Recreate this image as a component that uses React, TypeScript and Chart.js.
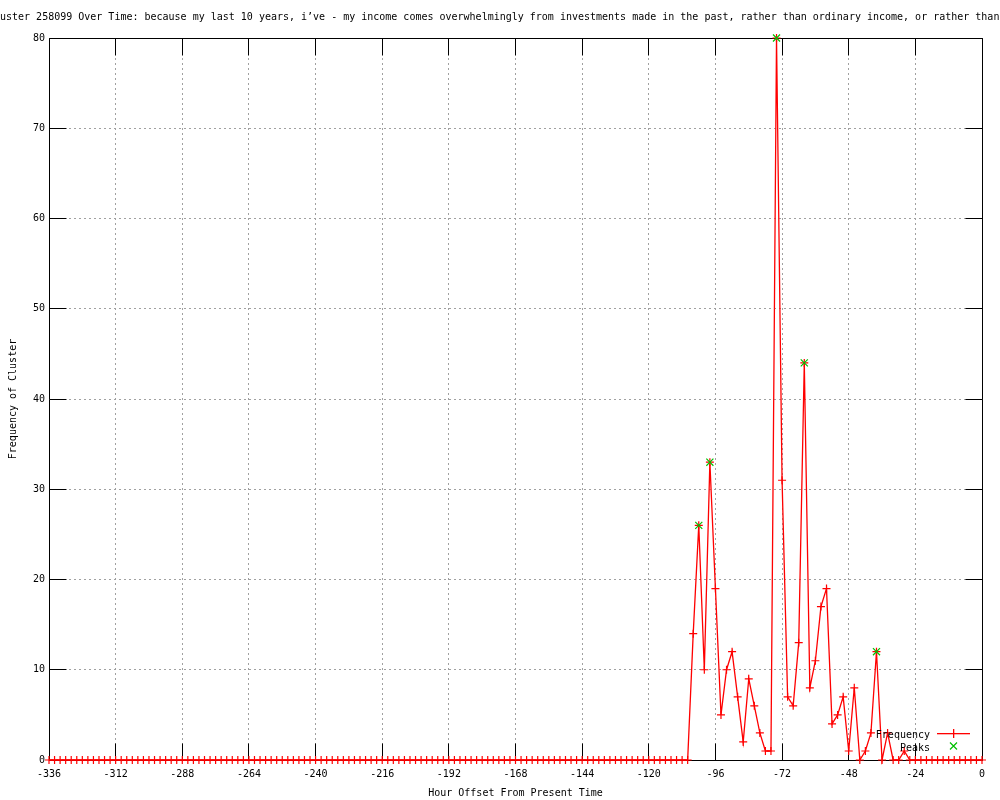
import React, { useEffect, useRef } from 'react';
import { Chart, registerables } from 'chart.js';

Chart.register(...registerables);

const titleText =
  'uster 258099 Over Time: because my last 10 years, i\u2019ve - my income comes overwhelmingly from investments made in the past, rather than ordinary income, or rather than';
const xAxisTitle = 'Hour Offset From Present Time';
const yAxisTitle = 'Frequency of Cluster';
const seriesLabels = ['Frequency', 'Peaks'];

// hour offsets (every 2 hours)
const hours = [
  -336, -334, -332, -330, -328, -326, -324, -322, -320, -318,
  -316, -314, -312, -310, -308, -306, -304, -302, -300, -298,
  -296, -294, -292, -290, -288, -286, -284, -282, -280, -278,
  -276, -274, -272, -270, -268, -266, -264, -262, -260, -258,
  -256, -254, -252, -250, -248, -246, -244, -242, -240, -238,
  -236, -234, -232, -230, -228, -226, -224, -222, -220, -218,
  -216, -214, -212, -210, -208, -206, -204, -202, -200, -198,
  -196, -194, -192, -190, -188, -186, -184, -182, -180, -178,
  -176, -174, -172, -170, -168, -166, -164, -162, -160, -158,
  -156, -154, -152, -150, -148, -146, -144, -142, -140, -138,
  -136, -134, -132, -130, -128, -126, -124, -122, -120, -118,
  -116, -114, -112, -110, -108, -106, -104, -102, -100, -98,
  -96, -94, -92, -90, -88, -86, -84, -82, -80, -78,
  -76, -74, -72, -70, -68, -66, -64, -62, -60, -58,
  -56, -54, -52, -50, -48, -46, -44, -42, -40, -38,
  -36, -34, -32, -30, -28, -26, -24, -22, -20, -18,
  -16, -14, -12, -10, -8, -6, -4, -2, 0,
];

const frequency = [
  0, 0, 0, 0, 0, 0, 0, 0, 0, 0,
  0, 0, 0, 0, 0, 0, 0, 0, 0, 0,
  0, 0, 0, 0, 0, 0, 0, 0, 0, 0,
  0, 0, 0, 0, 0, 0, 0, 0, 0, 0,
  0, 0, 0, 0, 0, 0, 0, 0, 0, 0,
  0, 0, 0, 0, 0, 0, 0, 0, 0, 0,
  0, 0, 0, 0, 0, 0, 0, 0, 0, 0,
  0, 0, 0, 0, 0, 0, 0, 0, 0, 0,
  0, 0, 0, 0, 0, 0, 0, 0, 0, 0,
  0, 0, 0, 0, 0, 0, 0, 0, 0, 0,
  0, 0, 0, 0, 0, 0, 0, 0, 0, 0,
  0, 0, 0, 0, 0, 0, 14, 26, 10, 33,
  19, 5, 10, 12, 7, 2, 9, 6, 3, 1,
  1, 80, 31, 7, 6, 13, 44, 8, 11, 17,
  19, 4, 5, 7, 1, 8, 0, 1, 3, 12,
  0, 3, 0, 0, 1, 0, 0, 0, 0, 0,
  0, 0, 0, 0, 0, 0, 0, 0, 0,
];

const peakHours = [-102, -98, -74, -64, -38];
const peakValues = [26, 33, 80, 44, 12];

const xTickValues = [-336, -312, -288, -264, -240, -216, -192, -168, -144, -120, -96, -72, -48, -24, 0];
const yTickValues = [0, 10, 20, 30, 40, 50, 60, 70, 80];

const FONT = '"DejaVu Sans Mono", "Liberation Mono", monospace';
const RED = '#ff0000';
const GREEN = '#00c000';

export default function App() {
  const ref = useRef<HTMLCanvasElement>(null);

  useEffect(() => {
    const canvas = ref.current;
    if (!canvas) return;

    const align = (p: number) => Math.round(p - 0.5) + 0.5;

    const gnuplotPlugin = {
      id: 'gnuplotLook',
      beforeDraw(chart: any) {
        const ctx = chart.ctx;
        ctx.save();
        ctx.fillStyle = '#ffffff';
        ctx.fillRect(0, 0, chart.width, chart.height);
        ctx.fillStyle = '#000000';
        ctx.font = `10px ${FONT}`;
        ctx.textAlign = 'left';
        ctx.textBaseline = 'alphabetic';
        ctx.fillText(titleText, 0, 20);
        ctx.restore();
      },
      beforeDatasetsDraw(chart: any) {
        const { ctx, chartArea: a, scales } = chart;
        const xs = scales.x;
        const ys = scales.y;
        const L = align(a.left);
        const R = align(a.right);
        const T = align(a.top);
        const B = align(a.bottom);
        const tl = 17;
        ctx.save();
        ctx.setLineDash([]);
        ctx.strokeStyle = '#000000';
        ctx.lineWidth = 1;
        ctx.beginPath();
        ctx.rect(L, T, R - L, B - T);
        for (const v of xTickValues) {
          const px = align(xs.getPixelForValue(v));
          ctx.moveTo(px, B);
          ctx.lineTo(px, B - tl);
          ctx.moveTo(px, T);
          ctx.lineTo(px, T + tl);
        }
        for (const v of yTickValues) {
          const py = align(ys.getPixelForValue(v));
          ctx.moveTo(L, py);
          ctx.lineTo(L + tl, py);
          ctx.moveTo(R, py);
          ctx.lineTo(R - tl, py);
        }
        ctx.stroke();
        ctx.restore();
      },
      afterDatasetsDraw(chart: any) {
        const ctx = chart.ctx;
        ctx.save();
        ctx.setLineDash([]);
        ctx.font = `10px ${FONT}`;
        ctx.fillStyle = '#000000';
        ctx.textAlign = 'right';
        ctx.textBaseline = 'alphabetic';
        ctx.fillText(seriesLabels[0], 930, 737.5);
        ctx.fillText(seriesLabels[1], 930, 750.5);
        ctx.fillStyle = RED;
        ctx.fillRect(937, 733, 33, 1.3);
        ctx.fillRect(953, 729, 1.3, 9);
        ctx.lineWidth = 1.2;
        ctx.strokeStyle = GREEN;
        ctx.beginPath();
        ctx.moveTo(950, 742.5);
        ctx.lineTo(957, 749.5);
        ctx.moveTo(957, 742.5);
        ctx.lineTo(950, 749.5);
        ctx.stroke();
        ctx.restore();
      },
    };

    const tickFont = { family: FONT, size: 10 };

    const chart = new Chart(canvas, {
      type: 'line',
      data: {
        datasets: [
          {
            label: seriesLabels[0],
            data: hours.map((h, i) => ({ x: h, y: frequency[i] })),
            borderColor: RED,
            backgroundColor: RED,
            borderWidth: 1.3,
            pointStyle: 'cross',
            pointRadius: 4,
            pointBorderWidth: 1.2,
            pointBorderColor: RED,
            tension: 0,
            fill: false,
            clip: false,
            order: 1,
          },
          {
            label: seriesLabels[1],
            data: peakHours.map((h, i) => ({ x: h, y: peakValues[i] })),
            showLine: false,
            borderColor: GREEN,
            backgroundColor: GREEN,
            pointStyle: 'crossRot',
            pointRadius: 5,
            pointBorderWidth: 1.2,
            pointBorderColor: GREEN,
            clip: false,
            order: 0,
          },
        ],
      },
      options: {
        responsive: false,
        animation: false,
        devicePixelRatio: 1,
        events: [],
        layout: { padding: { top: 38, right: 18, left: 0, bottom: 0 } },
        plugins: {
          legend: { display: false },
          tooltip: { enabled: false },
          title: { display: false },
        },
        scales: {
          x: {
            type: 'linear',
            min: -336,
            max: 0,
            afterBuildTicks: (s: any) => {
              s.ticks = xTickValues.map((v) => ({ value: v }));
            },
            afterFit: (s: any) => {
              s.height = 40;
            },
            grid: { color: '#a0a0a0', lineWidth: 1, drawTicks: false },
            border: { display: false, dash: [2, 3] },
            ticks: {
              autoSkip: false,
              maxRotation: 0,
              minRotation: 0,
              padding: 8,
              color: '#000000',
              font: tickFont,
              callback: (v: any) => String(v),
            },
            title: {
              display: true,
              text: xAxisTitle,
              color: '#000000',
              font: tickFont,
              padding: { top: 0, bottom: 1 },
            },
          },
          y: {
            type: 'linear',
            min: 0,
            max: 80,
            afterBuildTicks: (s: any) => {
              s.ticks = yTickValues.map((v) => ({ value: v }));
            },
            afterFit: (s: any) => {
              s.width = 49;
            },
            grid: { color: '#a0a0a0', lineWidth: 1, drawTicks: false },
            border: { display: false, dash: [2, 3] },
            ticks: {
              padding: 4,
              color: '#000000',
              font: tickFont,
              callback: (v: any) => String(v),
            },
            title: {
              display: true,
              text: yAxisTitle,
              color: '#000000',
              font: tickFont,
              padding: { top: 7, bottom: 0 },
            },
          },
        },
      },
      plugins: [gnuplotPlugin],
    } as any);

    return () => {
      chart.destroy();
    };
  }, []);

  return (
    <canvas
      ref={ref}
      width={1000}
      height={800}
      style={{ position: 'absolute', left: 0, top: 0, width: 1000, height: 800 }}
    />
  );
}
